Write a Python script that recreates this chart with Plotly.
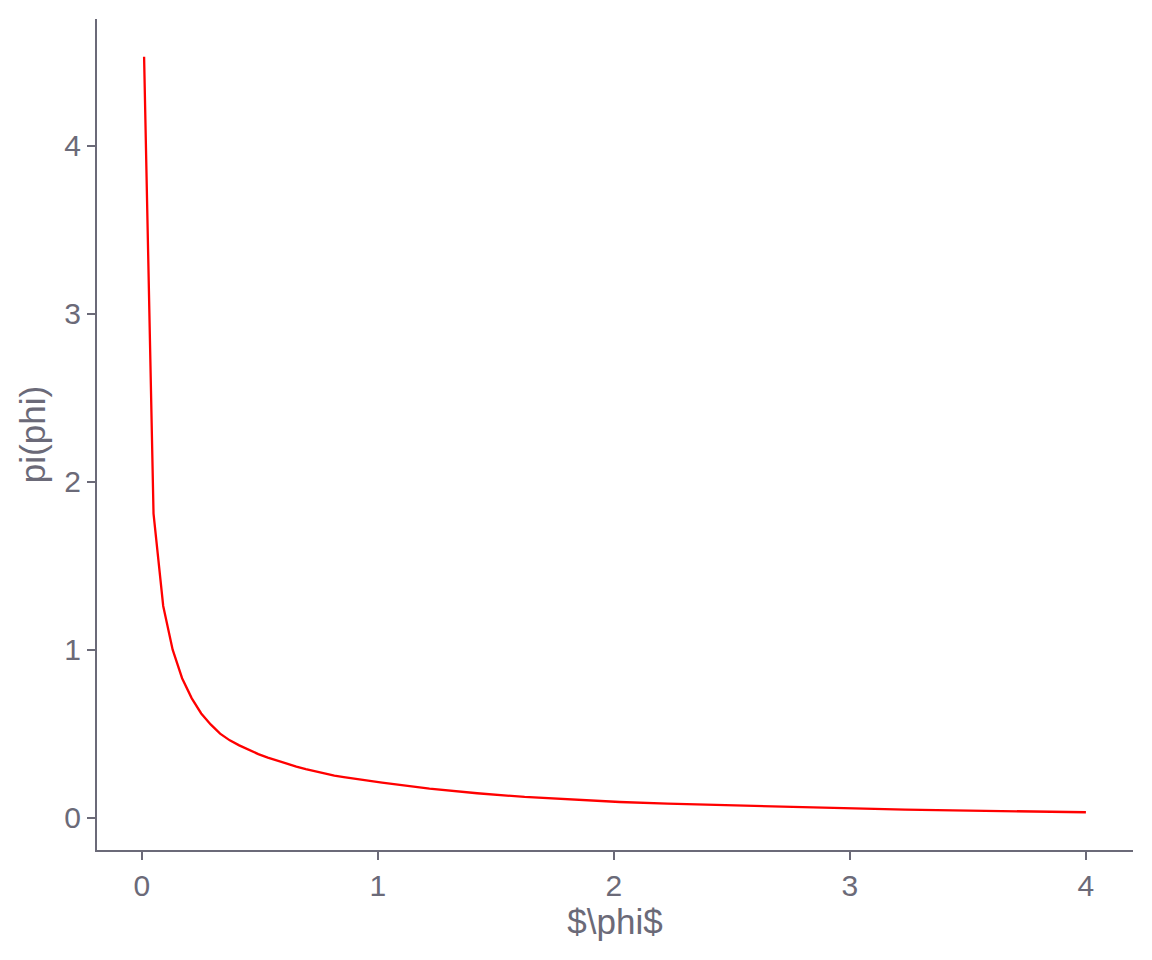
import plotly.graph_objects as go

# values
phi = [0.010, 0.050, 0.091, 0.131, 0.171, 0.212, 0.252, 0.292, 0.332, 0.373,
       0.413, 0.453, 0.494, 0.534, 0.574, 0.615, 0.655, 0.695, 0.735, 0.776,
       0.816, 0.856, 0.897, 0.937, 0.977, 1.018, 1.219, 1.421, 1.622, 1.824,
       2.025, 2.227, 2.428, 2.630, 2.831, 3.033, 3.234, 3.436, 3.637, 3.839,
       4.000]
density = [4.53, 1.81, 1.26, 1.00, 0.83, 0.71, 0.62, 0.555, 0.50, 0.46,
           0.43, 0.402, 0.378, 0.357, 0.338, 0.320, 0.304, 0.289, 0.275, 0.262,
           0.250, 0.241, 0.232, 0.224, 0.216, 0.208, 0.173, 0.145, 0.123, 0.106,
           0.093, 0.083, 0.075, 0.067, 0.059, 0.052, 0.047, 0.043, 0.039, 0.035,
           0.032]

x_ticks = [0, 1, 2, 3, 4]
y_ticks = [0, 1, 2, 3, 4]

axis_col = "#6b6a78"
font_fam = "Liberation Sans, Arial, sans-serif"

fig = go.Figure()
fig.add_trace(go.Scatter(x=phi, y=density, mode="lines",
                         line=dict(color="#ff0000", width=2.3), showlegend=False))

x_pad = (max(phi) - min(phi)) * 0.05
y_pad = (max(density) - min(density)) * 0.05

fig.update_layout(
    width=1152, height=960,
    paper_bgcolor="white", plot_bgcolor="white",
    margin=dict(l=89, r=27, t=11, b=118),
    font=dict(family=font_fam, color=axis_col),
    xaxis=dict(
        range=[min(phi) - x_pad, max(phi) + x_pad],
        tickvals=x_ticks, ticks="outside", ticklen=8, tickwidth=2, tickcolor=axis_col,
        showline=True, linecolor=axis_col, linewidth=2, showgrid=False, zeroline=False,
        tickfont=dict(size=30, color=axis_col),
        title=dict(text="$\\phi$", font=dict(size=35, color=axis_col), standoff=4),
        automargin=False,
    ),
    yaxis=dict(
        range=[min(density) - y_pad, max(density) + y_pad],
        tickvals=y_ticks, ticks="outside", ticklen=8, tickwidth=2, tickcolor=axis_col,
        showline=True, linecolor=axis_col, linewidth=2, showgrid=False, zeroline=False,
        tickfont=dict(size=30, color=axis_col),
        title=dict(text="pi(phi)", font=dict(size=35, color=axis_col), standoff=8),
        automargin=False,
    ),
)

fig.write_html("out.html")
